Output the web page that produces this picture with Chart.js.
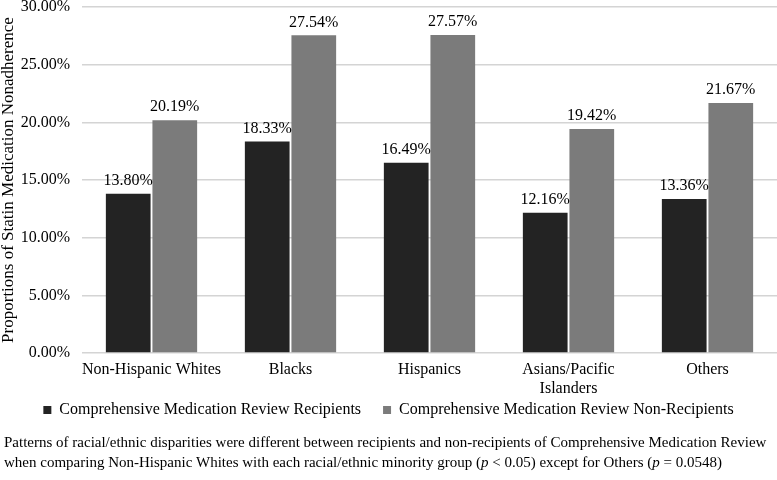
<!DOCTYPE html>
<html>
<head>
<meta charset="utf-8">
<script src="https://cdn.jsdelivr.net/npm/chart.js@4/dist/chart.umd.min.js"></script>
<style>
  html, body { margin: 0; padding: 0; background: #fff; }
  #wrap { width: 777px; height: 480px; }
</style>
</head>
<body>
<div id="wrap"><canvas id="myChart"></canvas></div>
<script>
let categories = ['Non-Hispanic Whites', 'Blacks', 'Hispanics', ['Asians/Pacific', 'Islanders'], 'Others']
let recipients = [13.80, 18.33, 16.49, 12.16, 13.36]
let nonRecipients = [20.19, 27.54, 27.57, 19.42, 21.67]
let yTicks = [0, 5, 10, 15, 20, 25, 30]
// footnote lines, split into [text, italic] pieces
let footnote = [
    [['Patterns of racial/ethnic disparities were different between recipients and non-recipients of Comprehensive Medication Review', false]],
    [['when comparing Non-Hispanic Whites with each racial/ethnic minority group (', false], ['p', true], [' < 0.05) except for Others (', false], ['p', true], [' = 0.0548)', false]]
]

const serif = '"Liberation Serif", "Times New Roman", serif'

// value labels above each bar
const barLabels = {
    id: 'barLabels',
    afterDatasetsDraw(chart) {
        const ctx = chart.ctx
        ctx.save()
        ctx.font = '16px ' + serif
        ctx.fillStyle = '#000'
        ctx.textAlign = 'center'
        ctx.textBaseline = 'bottom'
        chart.data.datasets.forEach((ds, i) => {
            chart.getDatasetMeta(i).data.forEach((bar, j) => {
                ctx.fillText(ds.data[j].toFixed(2) + '%', bar.x, bar.y - 5)
            })
        })
        ctx.restore()
    }
}

// footnote under the legend, with italic p
const footnotePlugin = {
    id: 'footnote',
    afterDraw(chart) {
        const ctx = chart.ctx
        ctx.save()
        ctx.fillStyle = '#000'
        ctx.textBaseline = 'middle'
        footnote.forEach((line, i) => {
            let x = 4
            const y = chart.height - 37 + i * 20
            line.forEach(([txt, italic]) => {
                ctx.font = (italic ? 'italic ' : '') + '15px ' + serif
                ctx.fillText(txt, x, y)
                x += ctx.measureText(txt).width
            })
        })
        ctx.restore()
    }
}

new Chart(document.querySelector('#myChart'), {
    type: 'bar',
    data: {
        labels: categories,
        datasets: [{
            label: 'Comprehensive Medication Review Recipients',
            data: recipients,
            backgroundColor: '#232323'
        }, {
            label: 'Comprehensive Medication Review Non-Recipients',
            data: nonRecipients,
            backgroundColor: '#7b7b7b'
        }]
    },
    options: {
        responsive: true,
        maintainAspectRatio: false,
        animation: false,
        layout: { padding: { left: 0, right: 0, top: 0, bottom: 52 } },
        datasets: { bar: { categoryPercentage: 0.67, barPercentage: 0.96 } },
        scales: {
            x: {
                grid: { display: false },
                border: { display: false },
                ticks: { color: '#000', font: { family: serif, size: 16, lineHeight: 1.15 }, maxRotation: 0, autoSkip: false, padding: 0 },
                afterFit(axis) { axis.height = 43 }
            },
            y: {
                min: 0,
                max: 30,
                afterBuildTicks(axis) { axis.ticks = yTicks.map(v => ({ value: v })) },
                afterFit(axis) { axis.width = 82; axis.paddingTop = 7 },
                grid: { color: '#d4d4d4', drawTicks: false, lineWidth: 1.5 },
                border: { display: false },
                ticks: {
                    color: '#000',
                    font: { family: serif, size: 16 },
                    padding: 12,
                    callback: v => v.toFixed(2) + '%'
                },
                title: {
                    display: true,
                    text: 'Proportions of Statin Medication Nonadherence',
                    color: '#000',
                    font: { family: serif, size: 17, lineHeight: 1 },
                    padding: { top: 0, bottom: 0 }
                }
            }
        },
        plugins: {
            legend: {
                position: 'bottom',
                labels: {
                    color: '#000',
                    font: { family: serif, size: 16 },
                    boxWidth: 8,
                    boxHeight: 8,
                    padding: 6,
                    generateLabels(chart) {
                        const items = Chart.defaults.plugins.legend.labels.generateLabels(chart)
                        items[0].text += '    '
                        return items
                    }
                }
            },
            tooltip: { enabled: false }
        }
    },
    plugins: [barLabels, footnotePlugin]
})
</script>
</body>
</html>
